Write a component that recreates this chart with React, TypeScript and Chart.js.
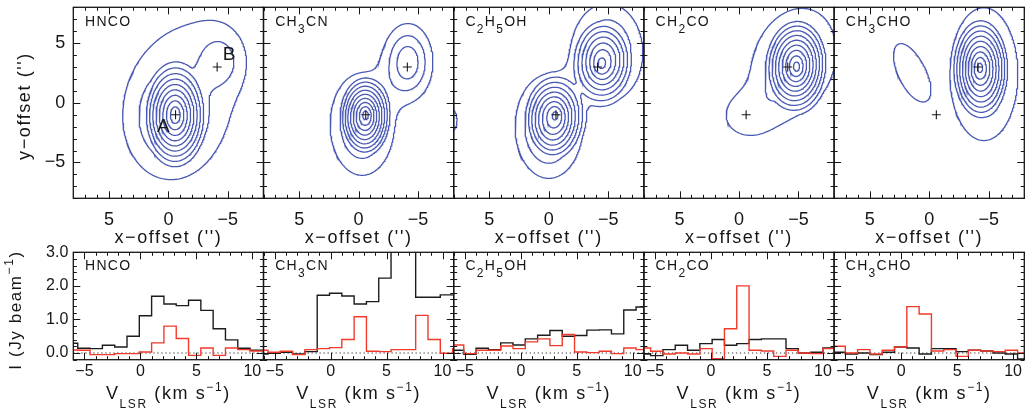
import { useEffect, useRef } from 'react';
import { Chart, registerables } from 'chart.js';

Chart.register(...registerables);

const FONT = "'Liberation Sans', Arial, Helvetica, sans-serif";
const INK = '#161616';
const CONTOUR_BLUE = '#4a5ab4';
const CORE_A_COLOR = '#1c1c1c';
const CORE_B_COLOR = '#f23a2a';

const PAGE_W = 1032;
const PAGE_H = 416;
const PANEL_LEFT = [73.3, 263.5, 453.7, 643.9, 834.1];
const PANEL_WIDTH = 190.2;
const MAP_TOP = 7.3;
const MAP_BOTTOM = 198.3;
const SPEC_TOP = 252.3;
const SPEC_BOTTOM = 359.7;
const AXIS_W = 40;
const AXIS_H = 40;

type Part = { t: string; sub?: boolean; sup?: boolean };
type Pt = { x: number; y: number };
// p: 1 = cone, 2 (default) = Gaussian, 4 = flat-topped
type Blob = { x: number; y: number; amp: number; sx: number; sy: number; pa: number; p?: number };

// Molecule names with chemical subscripts
const MOLECULE_LABELS: Part[][] = [
  [{ t: 'HNCO' }],
  [{ t: 'CH' }, { t: '3', sub: true }, { t: 'CN' }],
  [{ t: 'C' }, { t: '2', sub: true }, { t: 'H' }, { t: '5', sub: true }, { t: 'OH' }],
  [{ t: 'CH' }, { t: '2', sub: true }, { t: 'CO' }],
  [{ t: 'CH' }, { t: '3', sub: true }, { t: 'CHO' }],
];

// Continuum cores (offsets in arcsec)
const CORE_X = [-0.6, -4.1];
const CORE_Y = [-1.0, 3.0];
const CORE_NAMES = ['A', 'B'];
const CORE_NAME_X = [0.42, -5.1];
const CORE_NAME_Y = [-2.0, 4.05];

// Integrated emission of each molecule as a sum of elliptical components
// (centre, peak, size along / across the position angle, position angle in degrees, profile)
const HNCO_BLOBS: Blob[] = [
  { x: -0.6, y: -1.0, amp: 0.7, sx: 2.6, sy: 4.6, pa: 0, p: 1 },
  { x: -0.4, y: -1.2, amp: 0.3, sx: 1.9, sy: 2.5, pa: 0 },
  { x: -4.3, y: 3.5, amp: 0.17, sx: 1.2, sy: 1.5, pa: 0 },
  { x: -1.3, y: 0.9, amp: 0.12, sx: 7.3, sy: 4.9, pa: 110, p: 4 },
];
const CH3CN_BLOBS: Blob[] = [
  { x: -0.6, y: -1.0, amp: 0.75, sx: 2.2, sy: 3.4, pa: 0, p: 1 },
  { x: -0.3, y: -1.8, amp: 0.35, sx: 1.7, sy: 2.7, pa: 0 },
  { x: -4.15, y: 3.4, amp: 0.37, sx: 1.3, sy: 2.0, pa: 0 },
];
const C2H5OH_BLOBS: Blob[] = [
  { x: -0.6, y: -1.0, amp: 0.6, sx: 2.6, sy: 3.6, pa: 0, p: 1 },
  { x: 0.0, y: -2.0, amp: 0.4, sx: 1.7, sy: 2.6, pa: 0 },
  { x: -4.4, y: 3.2, amp: 0.55, sx: 2.6, sy: 3.6, pa: 0, p: 1 },
  { x: -4.9, y: 4.2, amp: 0.35, sx: 1.9, sy: 2.6, pa: 0 },
  { x: 8.6, y: -1.45, amp: 0.2, sx: 0.75, sy: 1.0, pa: 0 },
];
const CH2CO_BLOBS: Blob[] = [
  { x: -4.85, y: 3.0, amp: 0.75, sx: 2.6, sy: 4.0, pa: 0, p: 1 },
  { x: -4.6, y: 3.4, amp: 0.33, sx: 2.2, sy: 3.0, pa: 20 },
  { x: -0.6, y: -1.1, amp: 0.14, sx: 1.8, sy: 1.6, pa: 0 },
];
const CH3CHO_BLOBS: Blob[] = [
  { x: -4.25, y: 2.95, amp: 0.75, sx: 2.4, sy: 4.2, pa: 0, p: 1 },
  { x: -4.6, y: 2.4, amp: 0.33, sx: 1.85, sy: 3.6, pa: 0 },
  { x: 1.5, y: 2.55, amp: 0.15, sx: 2.74, sy: 1.19, pa: 65, p: 4 },
];
const MAP_BLOBS = [HNCO_BLOBS, CH3CN_BLOBS, C2H5OH_BLOBS, CH2CO_BLOBS, CH3CHO_BLOBS];
const CONTOUR_LEVELS = [0.1, 0.2, 0.3, 0.4, 0.5, 0.6, 0.7, 0.8, 0.9, 1.0];

const MAP_MAJOR = [-5, 0, 5];
const MAP_MINOR = [-8, -7, -6, -4, -3, -2, -1, 1, 2, 3, 4, 6, 7, 8];

// Spectra towards core A (black) and core B (red); channel centres in km/s, intensity in Jy/beam
const CHANNEL_WIDTH = 1.1;
const HNCO_VEL = [-6.15, -5.05, -3.95, -2.85, -1.75, -0.65, 0.45, 1.55, 2.65, 3.75, 4.85, 5.95, 7.05, 8.15, 9.25, 10.35, 11.45];
const HNCO_A = [0.29, 0.14, 0.13, 0.23, 0.18, 0.5, 1.11, 1.69, 1.46, 1.41, 1.57, 1.27, 0.72, 0.39, 0.14, 0.08, 0.08];
const HNCO_B = [0.09, 0.08, -0.05, -0.05, -0.02, -0.02, 0.03, 0.3, 0.8, 0.43, -0.07, 0.15, -0.07, 0.15, 0.1, 0.06, 0.06];

const CH3CN_VEL = [-6.15, -5.05, -3.95, -2.85, -1.75, -0.65, 0.45, 1.55, 2.65, 3.75, 4.85, 5.95, 7.05, 8.15, 9.25, 10.35, 11.45];
const CH3CN_A = [-0.03, -0.01, 0.02, -0.03, 0.04, 1.72, 1.78, 1.7, 1.46, 1.53, 2.23, 3.6, 3.5, 1.66, 1.66, 1.73, 1.73];
const CH3CN_B = [0.08, 0.02, 0.05, -0.05, 0.1, 0.13, 0.16, 0.4, 1.08, 0.05, 0.04, 0.1, 0.1, 1.12, 0.4, -0.01, 0.13];

const C2H5OH_VEL = [-5.65, -4.55, -3.45, -2.35, -1.25, -0.15, 0.95, 2.05, 3.15, 4.25, 5.35, 6.45, 7.55, 8.65, 9.75, 10.85];
const C2H5OH_A = [0.08, -0.04, 0.14, 0.1, 0.3, 0.24, 0.42, 0.53, 0.67, 0.5, 0.52, 0.68, 0.69, 0.57, 1.28, 1.37];
const C2H5OH_B = [0.24, -0.02, 0.08, 0.08, 0.21, 0.13, 0.33, 0.42, 0.22, 0.55, 0.03, 0.01, 0.05, -0.02, 0.15, 0.1];

const CH2CO_VEL = [-5.95, -4.85, -3.75, -2.65, -1.55, -0.45, 0.65, 1.75, 2.85, 3.95, 5.05, 6.15, 7.25, 8.35, 9.45, 10.55, 11.65];
const CH2CO_A = [-0.03, -0.08, 0.1, 0.23, 0.08, 0.28, 0.4, 0.23, 0.28, 0.4, 0.42, 0.42, 0.13, 0.0, 0.02, 0.15, 0.15];
const CH2CO_B = [0.15, 0.05, -0.03, 0.0, -0.03, 0.13, -0.17, 0.72, 2.0, 0.08, 0.06, -0.1, 0.08, 0.0, -0.02, 0.13, 0.13];

const CH3CHO_VEL = [-5.55, -4.45, -3.35, -2.25, -1.15, -0.05, 1.05, 2.15, 3.25, 4.35, 5.45, 6.55, 7.65, 8.75, 9.85, 10.95];
const CH3CHO_A = [0.02, -0.03, 0.0, -0.05, 0.02, 0.18, 0.15, -0.03, 0.13, 0.13, 0.04, 0.08, 0.06, 0.0, -0.03, -0.18];
const CH3CHO_B = [0.2, 0.0, 0.1, -0.03, 0.08, 0.18, 1.38, 1.16, 0.06, 0.1, -0.1, 0.08, 0.06, 0.04, 0.08, 0.0];

const SPEC_VEL = [HNCO_VEL, CH3CN_VEL, C2H5OH_VEL, CH2CO_VEL, CH3CHO_VEL];
const SPEC_A = [HNCO_A, CH3CN_A, C2H5OH_A, CH2CO_A, CH3CHO_A];
const SPEC_B = [HNCO_B, CH3CN_B, C2H5OH_B, CH2CO_B, CH3CHO_B];

const VEL_MIN = -6;
const VEL_MAX = 11;
const INT_MIN = -0.2;
const INT_MAX = 3.0;
const VEL_MAJOR = [-5, 0, 5, 10];
const VEL_MINOR = [-6, -4, -3, -2, -1, 1, 2, 3, 4, 6, 7, 8, 9, 11];
const INT_MAJOR = [0, 1, 2, 3];
const INT_MINOR = [-0.2, 0.2, 0.4, 0.6, 0.8, 1.2, 1.4, 1.6, 1.8, 2.2, 2.4, 2.6, 2.8];

const MAP_X_TITLE: Part[] = [{ t: "x\u2212offset ('')" }];
const MAP_Y_TITLE: Part[] = [{ t: "y\u2212offset ('')" }];
const SPEC_X_TITLE: Part[] = [{ t: 'V' }, { t: 'LSR', sub: true }, { t: ' (km s' }, { t: '\u22121', sup: true }, { t: ')' }];
const SPEC_Y_TITLE: Part[] = [{ t: 'I (Jy beam' }, { t: '\u22121', sup: true }, { t: ')' }];

// ---------- contour tracing ----------
const GRID_MIN = -9.5;
const GRID_MAX = 9.5;
const GRID_N = 191;
const GRID_STEP = (GRID_MAX - GRID_MIN) / (GRID_N - 1);

function fieldAt(blobs: Blob[], x: number, y: number) {
  let s = 0;
  for (const b of blobs) {
    const dx = x - b.x;
    const dy = y - b.y;
    const a = (b.pa * Math.PI) / 180;
    const u = dx * Math.cos(a) + dy * Math.sin(a);
    const v = -dx * Math.sin(a) + dy * Math.cos(a);
    const r2 = (u / b.sx) ** 2 + (v / b.sy) ** 2;
    const p = b.p ?? 2;
    if (p === 1) s += b.amp * Math.max(0, 1 - Math.sqrt(r2));
    else if (p === 4) s += b.amp * Math.exp(-0.5 * r2 * r2);
    else s += b.amp * Math.exp(-0.5 * r2);
  }
  return s;
}

function sampleField(blobs: Blob[]) {
  const g = new Float64Array(GRID_N * GRID_N);
  for (let j = 0; j < GRID_N; j++)
    for (let i = 0; i < GRID_N; i++) g[j * GRID_N + i] = fieldAt(blobs, GRID_MIN + i * GRID_STEP, GRID_MIN + j * GRID_STEP);
  return g;
}

// edges: 0 bottom, 1 right, 2 top, 3 left
const CASES: number[][][] = [
  [], [[3, 0]], [[0, 1]], [[3, 1]], [[1, 2]], [], [[0, 2]], [[3, 2]],
  [[3, 2]], [[0, 2]], [], [[1, 2]], [[3, 1]], [[0, 1]], [[3, 0]], [],
];

function contourPaths(g: Float64Array, level: number): Pt[][] {
  const n = GRID_N;
  const segA: number[] = [];
  const segB: number[] = [];
  for (let j = 0; j < n - 1; j++) {
    for (let i = 0; i < n - 1; i++) {
      const v0 = g[j * n + i];
      const v1 = g[j * n + i + 1];
      const v2 = g[(j + 1) * n + i + 1];
      const v3 = g[(j + 1) * n + i];
      let c = 0;
      if (v0 > level) c |= 1;
      if (v1 > level) c |= 2;
      if (v2 > level) c |= 4;
      if (v3 > level) c |= 8;
      if (c === 0 || c === 15) continue;
      const e = [(j * n + i) * 2, ((j * n + i + 1) * 2) + 1, ((j + 1) * n + i) * 2, (j * n + i) * 2 + 1];
      let pairs = CASES[c];
      if (c === 5 || c === 10) {
        const hi = (v0 + v1 + v2 + v3) / 4 > level;
        pairs = (c === 5) === hi ? [[0, 1], [3, 2]] : [[3, 0], [1, 2]];
      }
      for (const [a, b] of pairs) {
        segA.push(e[a]);
        segB.push(e[b]);
      }
    }
  }
  const pos = (id: number): Pt => {
    const cell = id >> 1;
    const i = cell % n;
    const j = (cell - i) / n;
    const x0 = GRID_MIN + i * GRID_STEP;
    const y0 = GRID_MIN + j * GRID_STEP;
    const a = g[cell];
    if ((id & 1) === 0) {
      const t = (level - a) / (g[cell + 1] - a);
      return { x: x0 + t * GRID_STEP, y: y0 };
    }
    const t = (level - a) / (g[cell + n] - a);
    return { x: x0, y: y0 + t * GRID_STEP };
  };
  const adj = new Map<number, number[]>();
  const add = (k: number, s: number) => {
    const l = adj.get(k);
    if (l) l.push(s);
    else adj.set(k, [s]);
  };
  segA.forEach((k, s) => add(k, s));
  segB.forEach((k, s) => add(k, s));
  const used = new Uint8Array(segA.length);
  const walk = (start: number, line: number[]) => {
    let cur = start;
    for (;;) {
      const l = adj.get(cur)!;
      let nxt = -1;
      for (const s of l) if (!used[s]) { nxt = s; break; }
      if (nxt < 0) break;
      used[nxt] = 1;
      cur = segA[nxt] === cur ? segB[nxt] : segA[nxt];
      line.push(cur);
    }
  };
  const paths: Pt[][] = [];
  for (let s = 0; s < segA.length; s++) {
    if (used[s]) continue;
    used[s] = 1;
    const fwd = [segA[s], segB[s]];
    walk(segB[s], fwd);
    const back: number[] = [];
    walk(segA[s], back);
    paths.push(back.reverse().concat(fwd).map(pos));
  }
  return paths;
}

// ---------- drawing helpers ----------
type RichStyle = { size: number; small: number; subDy: number; supDy: number; spacing: number };

function drawRich(ctx: CanvasRenderingContext2D, parts: Part[], x: number, y: number, st: RichStyle, align: 'left' | 'center', rot = 0) {
  ctx.save();
  ctx.translate(x, y);
  if (rot) ctx.rotate(rot);
  ctx.fillStyle = INK;
  ctx.textBaseline = 'alphabetic';
  ctx.textAlign = 'left';
  (ctx as any).letterSpacing = `${st.spacing}px`;
  const fontOf = (p: Part) => `${p.sub || p.sup ? st.small : st.size}px ${FONT}`;
  let total = 0;
  const ws = parts.map((p) => {
    ctx.font = fontOf(p);
    const w = ctx.measureText(p.t).width;
    total += w;
    return w;
  });
  let cx = align === 'center' ? -total / 2 : 0;
  parts.forEach((p, k) => {
    ctx.font = fontOf(p);
    ctx.fillText(p.t, cx, p.sub ? st.subDy : p.sup ? -st.supDy : 0);
    cx += ws[k];
  });
  ctx.restore();
}

type TextItem = { parts: Part[]; x: number; y: number; st: RichStyle; align: 'left' | 'center'; rot?: number };
type DecorSpec = {
  xMajor: number[]; xMinor: number[]; yMajor: number[]; yMinor: number[];
  texts: TextItem[];
  dataTexts?: { t: string; x: number; y: number; size: number }[];
};

function makeDecor(spec: DecorSpec) {
  return {
    id: 'panelDecor',
    afterDatasetsDraw(chart: any) {
      const { ctx, chartArea: a, scales } = chart;
      const xs = scales.x;
      const ys = scales.y;
      ctx.save();
      ctx.strokeStyle = INK;
      ctx.lineWidth = 1;
      ctx.beginPath();
      const xt = (vals: number[], len: number) => {
        for (const v of vals) {
          const px = Math.round(xs.getPixelForValue(v)) + 0.5;
          ctx.moveTo(px, a.bottom); ctx.lineTo(px, a.bottom - len);
          ctx.moveTo(px, a.top); ctx.lineTo(px, a.top + len);
        }
      };
      const yt = (vals: number[], len: number) => {
        for (const v of vals) {
          const py = Math.round(ys.getPixelForValue(v)) + 0.5;
          ctx.moveTo(a.left, py); ctx.lineTo(a.left + len, py);
          ctx.moveTo(a.right, py); ctx.lineTo(a.right - len, py);
        }
      };
      xt(spec.xMajor, 7); xt(spec.xMinor, 3.5);
      yt(spec.yMajor, 7); yt(spec.yMinor, 3.5);
      ctx.stroke();
      ctx.lineWidth = 1.3;
      ctx.strokeRect(a.left, a.top, a.right - a.left, a.bottom - a.top);
      ctx.restore();
      for (const d of spec.dataTexts ?? []) {
        ctx.save();
        ctx.fillStyle = INK;
        ctx.font = `${d.size}px ${FONT}`;
        ctx.textAlign = 'center';
        ctx.textBaseline = 'middle';
        ctx.fillText(d.t, xs.getPixelForValue(d.x), ys.getPixelForValue(d.y));
        ctx.restore();
      }
      for (const t of spec.texts) drawRich(ctx, t.parts, t.x, t.y, t.st, t.align, t.rot ?? 0);
    },
  };
}

const LABEL_STYLE: RichStyle = { size: 14, small: 12, subDy: 7, supDy: 7, spacing: 1.3 };
const TITLE_STYLE: RichStyle = { size: 18, small: 12, subDy: 8.5, supDy: 8.5, spacing: 1.6 };

const fmtInt = (v: number | string) => {
  const n = Number(v);
  return n < 0 ? `\u2212${Math.abs(n)}` : `${n}`;
};

function baseScale(min: number, max: number, ticks: number[], show: boolean, size: number, pad: number, fmt: (v: number | string) => string, horizontal: boolean, reverse = false) {
  return {
    type: 'linear',
    min,
    max,
    reverse,
    position: horizontal ? 'bottom' : 'left',
    grid: { display: false, drawTicks: false },
    border: { display: false },
    ticks: { display: show, autoSkip: false, maxRotation: 0, minRotation: 0, padding: pad, color: INK, font: { family: FONT, size }, callback: fmt },
    afterBuildTicks: (s: any) => { s.ticks = ticks.map((v) => ({ value: v })); },
    afterFit: (s: any) => {
      if (horizontal) s.height = AXIS_H;
      else s.width = AXIS_W;
      s.paddingTop = 0;
      s.paddingBottom = 0;
      s.paddingLeft = 0;
      s.paddingRight = 0;
    },
  };
}

function layoutFor(i: number, top: number, bottom: number) {
  const left = PANEL_LEFT[i];
  return { padding: { left: left - AXIS_W, right: PAGE_W - left - PANEL_WIDTH, top, bottom: PAGE_H - bottom - AXIS_H } };
}

function mapConfig(i: number): any {
  const grid = sampleField(MAP_BLOBS[i]);
  const datasets: any[] = [
    {
      data: CORE_X.map((x, k) => ({ x, y: CORE_Y[k] })),
      showLine: false, pointStyle: 'cross', pointRadius: 4.5, borderColor: INK, borderWidth: 1.1,
    },
  ];
  for (const lev of CONTOUR_LEVELS)
    for (const path of contourPaths(grid, lev))
      datasets.push({ data: path, borderColor: CONTOUR_BLUE, borderWidth: 1.3, pointRadius: 0, fill: false, tension: 0 });
  const left = PANEL_LEFT[i];
  const texts: TextItem[] = [
    { parts: MOLECULE_LABELS[i], x: left + 11.7, y: MAP_TOP + 18.7, st: LABEL_STYLE, align: 'left' },
    { parts: MAP_X_TITLE, x: left + PANEL_WIDTH / 2, y: 243, st: TITLE_STYLE, align: 'center' },
  ];
  if (i === 0) texts.push({ parts: MAP_Y_TITLE, x: 30, y: 106, st: TITLE_STYLE, align: 'center', rot: -Math.PI / 2 });
  const dataTexts = i === 0 ? CORE_NAMES.map((t, k) => ({ t, x: CORE_NAME_X[k], y: CORE_NAME_Y[k], size: 19 })) : [];
  return {
    type: 'line',
    data: { datasets },
    options: {
      responsive: false, animation: false, devicePixelRatio: 1, events: [],
      layout: layoutFor(i, MAP_TOP, MAP_BOTTOM),
      plugins: { legend: { display: false }, tooltip: { enabled: false } },
      scales: {
        x: baseScale(-8, 8, MAP_MAJOR, true, 18, 11, fmtInt, true, true),
        y: baseScale(-8, 8, MAP_MAJOR, i === 0, 18, 8, fmtInt, false),
      },
    },
    plugins: [makeDecor({ xMajor: MAP_MAJOR, xMinor: MAP_MINOR, yMajor: MAP_MAJOR, yMinor: MAP_MINOR, texts, dataTexts })],
  };
}

function stepPoints(vel: number[], vals: number[]): Pt[] {
  const pts = vel.map((v, k) => ({ x: v - CHANNEL_WIDTH / 2, y: vals[k] }));
  pts.push({ x: vel[vel.length - 1] + CHANNEL_WIDTH / 2, y: vals[vals.length - 1] });
  return pts;
}

function specConfig(i: number): any {
  const left = PANEL_LEFT[i];
  const texts: TextItem[] = [
    { parts: MOLECULE_LABELS[i], x: left + 11.7, y: SPEC_TOP + 18, st: LABEL_STYLE, align: 'left' },
    { parts: SPEC_X_TITLE, x: left + PANEL_WIDTH / 2, y: 399.3, st: TITLE_STYLE, align: 'center' },
  ];
  if (i === 0) texts.push({ parts: SPEC_Y_TITLE, x: 21, y: 310, st: { ...TITLE_STYLE, size: 17 }, align: 'center', rot: -Math.PI / 2 });
  return {
    type: 'line',
    data: {
      datasets: [
        { data: stepPoints(SPEC_VEL[i], SPEC_B[i]), stepped: 'before', borderColor: CORE_B_COLOR, borderWidth: 1.4, pointRadius: 0, fill: false },
        { data: stepPoints(SPEC_VEL[i], SPEC_A[i]), stepped: 'before', borderColor: CORE_A_COLOR, borderWidth: 1.4, pointRadius: 0, fill: false },
        { data: [{ x: VEL_MIN, y: 0 }, { x: VEL_MAX, y: 0 }], borderColor: '#3a3a3a', borderWidth: 1.2, borderDash: [1.3, 2.7], pointRadius: 0, fill: false },
      ],
    },
    options: {
      responsive: false, animation: false, devicePixelRatio: 1, events: [],
      layout: layoutFor(i, SPEC_TOP, SPEC_BOTTOM),
      plugins: { legend: { display: false }, tooltip: { enabled: false } },
      scales: {
        x: baseScale(VEL_MIN, VEL_MAX, VEL_MAJOR, true, 16, 2.4, fmtInt, true),
        y: baseScale(INT_MIN, INT_MAX, INT_MAJOR, i === 0, 16, 5, (v) => Number(v).toFixed(1), false),
      },
    },
    plugins: [makeDecor({ xMajor: VEL_MAJOR, xMinor: VEL_MINOR, yMajor: INT_MAJOR, yMinor: INT_MINOR, texts })],
  };
}

export default function App() {
  const refs = useRef<(HTMLCanvasElement | null)[]>([]);
  useEffect(() => {
    const charts: Chart[] = [];
    for (let i = 0; i < 5; i++) {
      charts.push(new Chart(refs.current[i]!, mapConfig(i)));
      charts.push(new Chart(refs.current[i + 5]!, specConfig(i)));
    }
    return () => charts.forEach((c) => c.destroy());
  }, []);
  return (
    <div style={{ position: 'absolute', left: 0, top: 0, width: PAGE_W, height: PAGE_H, background: '#fff' }}>
      {Array.from({ length: 10 }).map((_, i) => (
        <canvas
          key={i}
          ref={(el) => { refs.current[i] = el; }}
          width={PAGE_W}
          height={PAGE_H}
          style={{ position: 'absolute', left: 0, top: 0 }}
        />
      ))}
    </div>
  );
}
